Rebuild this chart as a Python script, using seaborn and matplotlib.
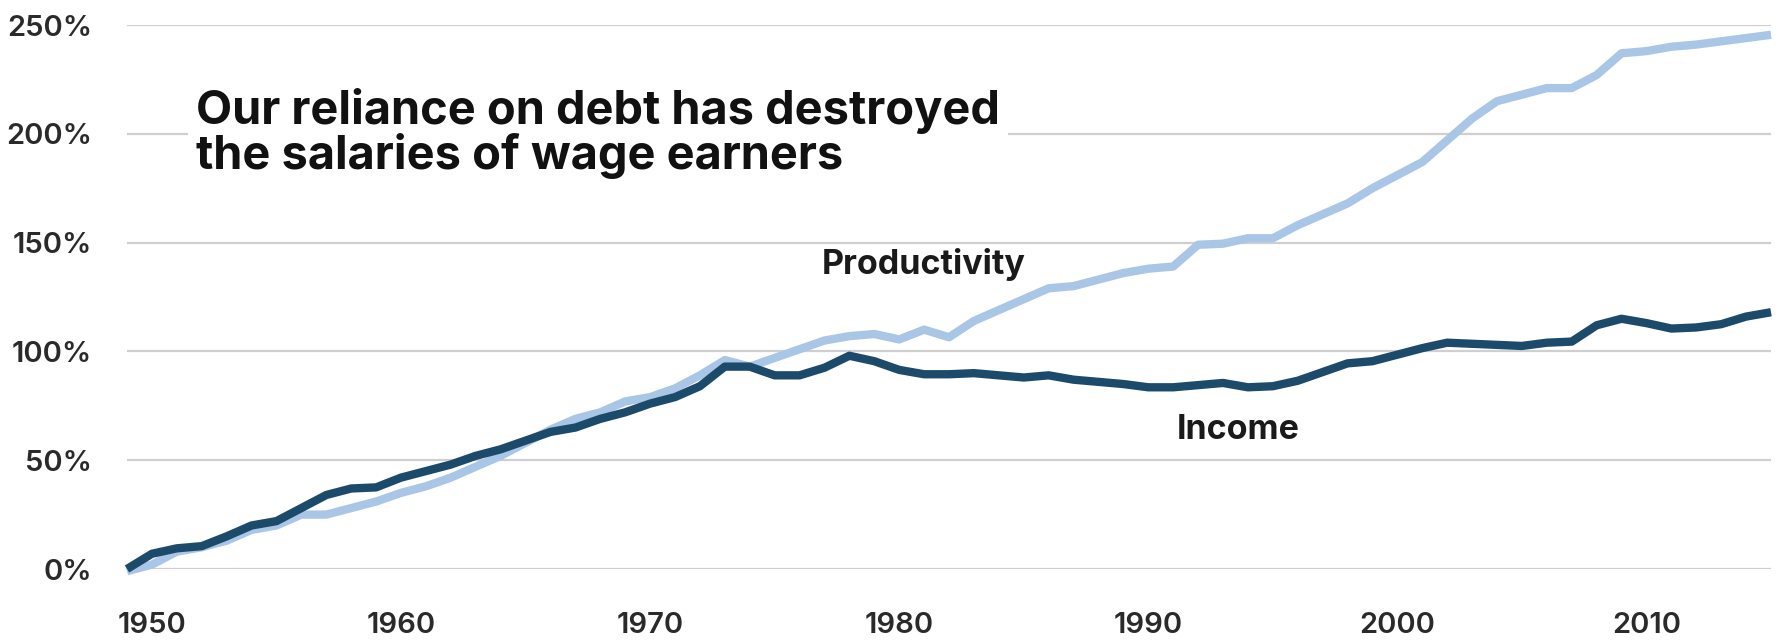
import numpy as np
import pandas as pd
import matplotlib.pyplot as plt
import seaborn as sns

years = list(range(1949, 2016))

productivity = [
    -1, 2, 8, 10, 13, 18, 20, 25, 25, 28,
    31, 35, 38, 42, 47, 52, 58, 64, 69, 72,
    77, 79, 83, 89, 96, 93, 97, 101, 105, 107,
    108, 105.5, 110, 106.5, 114, 119, 124, 129, 130, 133,
    136, 138, 139, 149, 149.5, 152, 152, 158, 163, 168,
    175, 181, 187, 197, 207, 215, 218, 221, 221, 227,
    237, 238, 240, 241, 242.5, 244, 245.5,
]

income = [
    0, 7, 9.5, 10.5, 15, 20, 22, 28, 34, 37,
    37.5, 42, 45, 48, 52, 55, 59, 63, 65, 69,
    72, 76, 79, 84, 93, 93, 89, 89, 92.5, 98,
    95.5, 91.5, 89.5, 89.5, 90, 89, 88, 89, 87, 86,
    85, 83.5, 83.5, 84.5, 85.5, 83.5, 84, 86.5, 90.5, 94.5,
    95.5, 98.5, 101.5, 104, 103.5, 103, 102.5, 104, 104.5, 112,
    115, 113, 110.5, 111, 112.5, 116, 118,
]

y_ticks = [0, 50, 100, 150, 200, 250]
x_ticks = [1950, 1960, 1970, 1980, 1990, 2000, 2010]

title = "Our reliance on debt has destroyed\nthe salaries of wage earners"

df = pd.DataFrame({"year": years, "Productivity": productivity, "Income": income})
df = df.melt(id_vars="year", var_name="series", value_name="pct")

sns.set_style("white")
plt.rcParams["font.family"] = ["Inter", "Lato", "DejaVu Sans"]

fig = plt.figure(figsize=(17.83, 6.42), dpi=100)
ax = fig.add_axes([127 / 1783, 73 / 642, 1644 / 1783, 544 / 642])

palette = {"Productivity": "#a9c6e6", "Income": "#1c4a6b"}
sns.lineplot(data=df, x="year", y="pct", hue="series", palette=palette,
             hue_order=["Productivity", "Income"], linewidth=6,
             legend=False, ax=ax, clip_on=False,
             solid_joinstyle="round", solid_capstyle="butt")

ax.set_xlim(1949, 2015)
ax.set_ylim(0, 250)
ax.set_yticks(y_ticks)
ax.set_yticklabels([f"{v}%" for v in y_ticks])
ax.set_xticks(x_ticks)
ax.set_xticklabels([str(v) for v in x_ticks])
ax.set_xlabel("")
ax.set_ylabel("")

ax.yaxis.grid(True, color="#cfcfcf", linewidth=1.6)
ax.xaxis.grid(False)
ax.set_axisbelow(True)
for s in ax.spines.values():
    s.set_visible(False)

ax.tick_params(axis="y", length=0, pad=25, labelsize=21, labelcolor="#2a2a2a")
ax.tick_params(axis="x", length=0, pad=31, labelsize=21, labelcolor="#2a2a2a")
for lab in ax.get_xticklabels() + ax.get_yticklabels():
    lab.set_fontweight("semibold")

ax.text(0.042, 0.80, title, transform=ax.transAxes, fontsize=33.8,
        fontweight="bold", color="#111111", va="center", ha="left",
        linespacing=0.98, zorder=5,
        bbox=dict(facecolor="white", edgecolor="none", pad=6))

ax.text(1981.0, 140, "Productivity", fontsize=24.5, fontweight="bold",
        color="#1a1a1a", ha="center", va="center")
ax.text(1993.6, 64, "Income", fontsize=24.5, fontweight="bold",
        color="#1a1a1a", ha="center", va="center")

fig.savefig("out.png", dpi=100, facecolor="white")
